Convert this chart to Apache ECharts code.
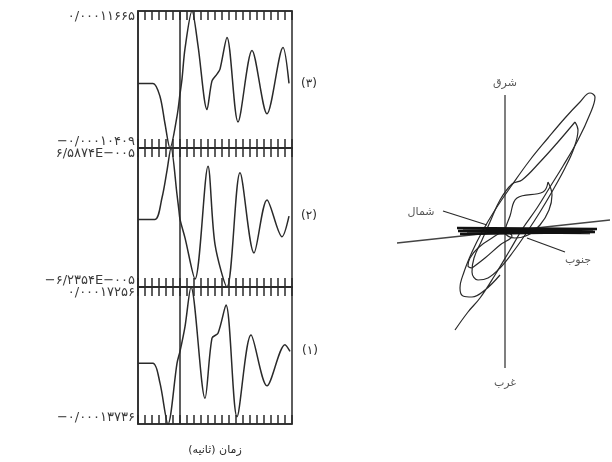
<!DOCTYPE html>
<html><head><meta charset="utf-8">
<script src="https://cdn.jsdelivr.net/npm/echarts@6/dist/echarts.min.js"></script>
<style>html,body{margin:0;padding:0;background:#fff}#c{width:612px;height:462px}</style>
</head><body><div id="c"></div>
<script>
// ---- time-history panels (values in units of 1e-5) ----
const panelNames = ['(۳)', '(۲)', '(۱)'];
const panelMaxLabels = ['۰/۰۰۰۱۱۶۶۵', '۶/۵۸۷۴E−۰۰۵', '۰/۰۰۰۱۷۲۵۶'];
const panelMinLabels = ['−۰/۰۰۰۱۰۴۰۹', '−۶/۲۳۵۴E−۰۰۵', '−۰/۰۰۰۱۳۷۳۶'];
const panelMax = [11.665, 6.5874, 17.256];
const panelMin = [-10.409, -6.2354, -13.736];
const timeLabel = 'زمان (ثانیه)';
const markTime = 4.2;

const p3Time  = [0, 1.5, 2.2, 2.7, 3.2, 3.9, 4.2, 4.4, 4.7, 5.4, 6.0, 6.9, 7.4, 7.9, 8.2, 8.9, 10.0, 11.4, 12.9, 14.5, 15.1];
const p3Value = [0, 0, -2.1, -6.5, -10.409, -5.3, -1.7, 0.7, 5.6, 11.665, 6.1, -4.2, 0.4, 1.5, 2.3, 7.4, -6.2, 5.3, -4.9, 5.8, 0];

const p2Time  = [0, 1.7, 2.4, 2.9, 3.3, 3.9, 4.1, 4.2, 4.7, 5.7, 7.0, 7.7, 8.9, 10.2, 11.6, 12.9, 14.4, 15.1];
const p2Value = [0, 0, 2.0, 4.5, 6.5874, 2.3, 0.75, 0, -1.7, -5.5, 4.9, -2.3, -6.2354, 4.3, -3.1, 1.8, -1.6, 0.3];

const p1Time  = [0, 1.5, 2.2, 3.0, 3.9, 4.2, 4.7, 5.3, 6.7, 7.4, 8.0, 8.8, 9.9, 11.3, 12.9, 14.7, 15.2];
const p1Value = [0, 0, -4.5, -13.736, 0, 2.7, 8.3, 17.256, -7.9, 5.7, 6.8, 13.2, -12.1, 6.4, -5.1, 4.2, 2.7];

// ---- particle-motion (hodograph) traces ----
const loopA = [[-50,-98],[-37,-80],[-25,-66],[-10,-43],[5,-18],[18,4],[32,24],[45,45],[58,66],[73,92],[85,118],[90,135],[85,139],[75,130],[60,114],[43,94],[25,72],[7,47],[-10,22],[-23,0],[-33,-20],[-41,-40],[-45,-56],[-42,-64],[-33,-65],[-20,-58],[-5,-43]];
const loopB = [[70,110],[73,102],[69,84],[60,64],[48,42],[35,20],[22,0],[8,-20],[-5,-36],[-17,-46],[-27,-48],[-33,-40],[-31,-26],[-23,-8],[-15,10],[-5,32],[7,48],[17,52],[35,70],[53,90],[70,110]];
const loopC = [[43,50],[47,37],[44,22],[35,7],[23,-3],[10,-6],[0,0],[5,16],[12,34],[38,40],[43,50]];
const loopD = [[-33,-36],[-20,-26],[-5,-13],[7,-4],[0,0],[-13,-6],[-27,-16],[-35,-26],[-37,-34],[-33,-36]];
const band  = [[-48,4],[92,3],[-47,1],[90,0],[-45,-2],[88,1],[-42,3],[85,-1],[-38,0],[80,2],[-30,-1],[75,0]];
const ewAxis = [[0,137],[0,-136]];
const nsAxis = [[-108,-11],[105,12]];
const northLeader = [[-62,21],[-18,7]];
const southLeader = [[22,-6],[60,-20]];
const compassNames = ['شرق', 'غرب', 'شمال', 'جنوب'];
const compassPoints = [[0,149],[0,-151],[-84,20],[73,-28]];

const panelTimes = [p3Time, p2Time, p1Time];
const panelValues = [p3Value, p2Value, p1Value];

const FONT = 'DejaVu Sans';
const INK = '#2a2a2a';
const LABEL_INK = '#3a3a3a';
const gridBoxes = [
  {left:138, top:11, width:154, height:137},
  {left:138, top:148, width:154, height:139},
  {left:138, top:287, width:154, height:137}
];

const grids = gridBoxes.map(g => Object.assign({show:true, borderColor:INK, borderWidth:1.5, backgroundColor:'transparent'}, g));
grids.push({left:380, top:60, width:232, height:340});

const xAxes = [], yAxes = [], series = [];
for (let i = 0; i < 3; i++) {
  ['bottom','top'].forEach(pos => {
    const ax = {
      type:'value', gridIndex:i, position:pos, min:0, max:15.4, interval:0.7,
      axisLine:{show:true, onZero:false, lineStyle:{color:INK, width:1.5}},
      axisTick:{show:true, inside:true, length:9, lineStyle:{color:INK, width:1.5}},
      axisLabel:{show:false}, splitLine:{show:false}
    };
    if (i === 2 && pos === 'bottom') {
      ax.name = timeLabel; ax.nameLocation = 'middle'; ax.nameGap = 21;
      ax.nameTextStyle = {fontFamily:FONT, fontSize:11, color:INK};
    }
    xAxes.push(ax);
  });
  const mn = panelMin[i], mx = panelMax[i], lo = panelMinLabels[i], hi = panelMaxLabels[i];
  yAxes.push({
    type:'value', gridIndex:i, min:mn, max:mx,
    axisLine:{show:true, onZero:false, lineStyle:{color:INK, width:1.5}},
    axisTick:{show:false}, splitLine:{show:false},
    axisLabel:{
      show:true, showMinLabel:true, showMaxLabel:true, margin:3,
      fontFamily:FONT, fontSize:13, color:LABEL_INK,
      formatter: v => (Math.abs(v - mx) < 1e-9 ? '{t|' + hi + '}' : (Math.abs(v - mn) < 1e-9 ? '{b|' + lo + '}' : '')),
      rich:{ t:{padding:[12,0,0,0], fontFamily:FONT, fontSize:13, color:LABEL_INK}, b:{padding:[0,0,12,0], fontFamily:FONT, fontSize:13, color:LABEL_INK} }
    }
  });
  series.push({
    type:'line', xAxisIndex:2*i, yAxisIndex:i,
    data: panelTimes[i].map((t, k) => [t, panelValues[i][k]]),
    showSymbol:false, smooth:0.3, clip:false,
    lineStyle:{color:INK, width:1.5},
    endLabel:{show:true, formatter:panelNames[i], distance:12, fontFamily:FONT, fontSize:12, color:INK},
    markLine:{silent:true, symbol:'none', label:{show:false}, lineStyle:{color:INK, width:1.5, type:'solid'}, data:[{xAxis:markTime}]}
  });
}

// hodograph axes
xAxes.push({type:'value', gridIndex:3, min:-125, max:107, show:false});
yAxes.push({type:'value', gridIndex:3, min:-168, max:172, show:false});
const hx = 6, hy = 3;
function hodoLine(data, opts) {
  return Object.assign({type:'line', xAxisIndex:hx, yAxisIndex:hy, data:data, showSymbol:false, silent:true,
    lineStyle:{color:INK, width:1.2}}, opts || {});
}
series.push(hodoLine(ewAxis, {lineStyle:{color:'#555', width:1.5}}));
series.push(hodoLine(nsAxis, {lineStyle:{color:'#444', width:1.3}}));
series.push(hodoLine(loopA, {smooth:0.4}));
series.push(hodoLine(loopB, {smooth:0.4}));
series.push(hodoLine(loopC, {smooth:0.4}));
series.push(hodoLine(loopD, {smooth:0.4}));
series.push(hodoLine(band, {lineStyle:{color:'#111', width:2.5}}));
series.push(hodoLine(northLeader, {lineStyle:{color:INK, width:1.2}}));
series.push(hodoLine(southLeader, {lineStyle:{color:INK, width:1.2}}));
series.push({
  type:'scatter', xAxisIndex:hx, yAxisIndex:hy, symbolSize:0, silent:true,
  data: compassNames.map((n, k) => ({name:n, value:compassPoints[k]})),
  label:{show:true, position:'inside', formatter:'{b}', fontFamily:FONT, fontSize:11, color:INK}
});

const chart = echarts.init(document.getElementById('c'), null, {renderer:'canvas'});
chart.setOption({animation:false, backgroundColor:'#fff', textStyle:{fontFamily:FONT},
  grid:grids, xAxis:xAxes, yAxis:yAxes, series:series});
</script></body></html>
